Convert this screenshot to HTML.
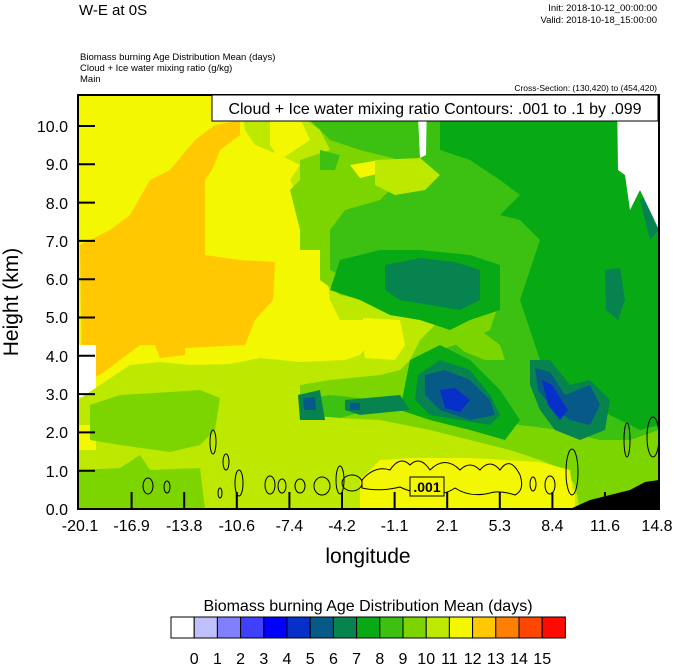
<!DOCTYPE html>
<html><head><style>
body{margin:0;background:#fff;width:674px;height:667px;overflow:hidden;font-family:"Liberation Sans",sans-serif}
</style></head><body>
<svg width="674" height="667" xmlns="http://www.w3.org/2000/svg" font-family="Liberation Sans, sans-serif">
<defs><clipPath id="c"><rect x="78" y="95" width="581" height="414"/></clipPath></defs>
<g clip-path="url(#c)">
<rect x="78" y="95" width="581" height="414" fill="#f3f700"/>
<polygon fill="#ffc800" points="80,245 110,230 130,215 150,180 170,170 195,140 215,125 240,120 240,135 220,150 212,170 205,180 205,255 240,260 275,262 273,300 255,320 245,345 185,348 185,355 160,358 155,345 140,345 120,360 100,375 82,380"/>
<rect x="78" y="345" width="18" height="52" fill="#fff"/>
<polygon fill="#bde800" points="240,95 659,95 659,509 575,509 575,490 360,480 360,509 78,509 78,400 100,385 130,365 160,362 190,365 230,364 260,358 300,362 345,360 360,355 380,330 375,320 340,320 330,300 325,260 330,230 315,210 300,200 290,180 300,165 280,155 255,145 245,130"/>
<rect x="78" y="425" width="18" height="25" fill="#f3f700"/>
<polygon fill="#7dd500" points="290,95 659,95 659,509 580,509 575,485 565,470 540,460 510,450 470,440 430,430 380,420 340,418 320,410 300,400 300,385 330,380 380,375 400,370 410,360 420,340 440,320 460,310 470,300 430,300 395,305 365,300 340,295 320,280 320,250 300,250 300,230 290,190 300,180 300,160 330,150 320,130 300,115"/>
<polygon fill="#7dd500" points="90,405 120,395 170,392 200,390 220,398 215,430 200,445 170,452 120,445 90,440"/>
<polygon fill="#7dd500" points="78,470 120,468 140,455 150,470 200,468 205,509 78,509"/>
<polygon fill="#f3f700" points="363,318 400,320 405,345 395,360 365,358 362,340"/>
<polygon fill="#f3f700" points="350,165 380,160 395,165 385,172 360,178"/>
<polygon fill="#f3f700" points="380,460 410,458 470,458 540,462 570,470 575,509 360,509 360,480"/>
<polygon fill="#f3f700" points="270,120 300,118 310,140 280,160 270,145"/>
<polygon fill="#3cc012" points="300,95 659,95 659,430 630,440 600,440 560,430 520,425 500,420 480,400 460,370 440,350 470,340 490,330 500,300 480,285 460,300 400,300 370,290 350,280 330,270 330,230 345,210 380,200 400,180 400,160 360,150 330,140 310,120"/>
<polygon fill="#bde800" points="375,160 420,158 440,175 425,190 395,195 375,185"/>
<polygon fill="#7dd500" points="450,340 480,330 500,345 505,360 485,360 465,352"/>
<polygon fill="#3cc012" points="320,150 340,155 335,170 320,170"/>
<polygon fill="#3cc012" points="300,400 330,395 360,398 370,410 340,418 305,415"/>
<polygon fill="#07a915" points="440,95 659,95 659,425 640,430 620,420 600,410 580,395 560,380 540,360 530,330 520,300 530,270 540,240 520,220 500,215 520,195 500,180 470,160 440,150 440,120"/>
<polygon fill="#07a915" points="340,260 380,250 420,250 470,255 500,265 500,310 470,320 450,330 420,320 390,315 360,300 330,290"/>
<polygon fill="#07a915" points="410,360 440,345 470,360 500,390 520,420 505,440 470,430 430,420 400,410 405,385"/>
<polygon fill="#07a915" points="620,110 640,120 659,140 659,200 640,180 630,150"/>
<polygon fill="#078350" points="385,265 420,258 455,262 480,270 480,300 460,310 430,305 400,300 385,290"/>
<polygon fill="#078350" points="605,270 620,268 625,300 618,320 606,310"/>
<polygon fill="#078350" points="640,200 655,190 659,230 650,240"/>
<polygon fill="#078350" points="418,375 440,360 470,370 490,395 500,415 490,425 460,420 430,415 415,400"/>
<polygon fill="#078350" points="530,360 550,360 570,385 590,380 610,400 605,430 580,440 555,430 540,410 530,385"/>
<polygon fill="#078350" points="298,395 320,390 325,420 300,420"/>
<polygon fill="#078350" points="345,400 400,395 410,410 360,415 345,410"/>
<polygon fill="#075a87" points="425,375 445,370 470,380 490,400 495,415 470,420 440,410 425,395"/>
<polygon fill="#075a87" points="535,368 550,372 565,395 590,385 600,405 590,425 570,420 550,405 538,390"/>
<polygon fill="#075a87" points="303,398 315,397 316,410 304,410"/>
<polygon fill="#075a87" points="350,403 360,403 360,410 350,410"/>
<polygon fill="#0630c7" points="440,390 455,388 470,400 460,412 445,408"/>
<polygon fill="#0630c7" points="542,380 552,385 568,410 560,420 548,405"/>
<polygon fill="#fff" points="417,95 427,95 426,155 420,158"/>
<polygon fill="#fff" points="617,95 659,95 659,230 652,215 640,190 630,210 625,175 618,170"/>
<polygon fill="#000" points="570,509 590,500 610,495 630,490 645,482 659,480 659,509"/>
<g fill="none" stroke="#000" stroke-width="1">
<ellipse cx="213" cy="442" rx="3" ry="12"/><ellipse cx="226" cy="462" rx="3" ry="8"/>
<ellipse cx="148" cy="486" rx="5" ry="8"/><ellipse cx="167" cy="487" rx="3" ry="6"/>
<ellipse cx="239" cy="483" rx="4" ry="13"/><ellipse cx="220" cy="493" rx="2" ry="5"/>
<ellipse cx="270" cy="485" rx="5" ry="9"/><ellipse cx="282" cy="486" rx="4" ry="7"/>
<ellipse cx="300" cy="486" rx="5" ry="7"/><ellipse cx="322" cy="486" rx="8" ry="9"/>
<ellipse cx="340" cy="480" rx="4" ry="14"/><ellipse cx="352" cy="483" rx="10" ry="8"/>
<path d="M362,480 Q375,465 390,470 Q400,455 410,465 Q420,455 430,470 Q445,455 460,470 Q470,460 480,470 Q490,458 500,470 Q510,455 520,475 Q525,490 515,495 Q500,490 490,493 Q470,498 455,488 Q440,498 430,490 Q415,495 400,487 Q380,492 362,488 Z"/>
<ellipse cx="550" cy="485" rx="5" ry="9"/><ellipse cx="572" cy="472" rx="6" ry="23"/>
<ellipse cx="627" cy="440" rx="3" ry="17"/><ellipse cx="653" cy="437" rx="6" ry="20"/>
<ellipse cx="533" cy="484" rx="3" ry="7"/>
</g>
<rect x="410" y="477" width="34" height="19" fill="#f3f700" stroke="#000"/>
<text x="427" y="492" font-size="14" font-weight="bold" text-anchor="middle">.001</text>
</g>
<rect x="78" y="95" width="581" height="414" fill="none" stroke="#000" stroke-width="2"/>
<rect x="212" y="95" width="446" height="26" fill="#fff" stroke="#000"/>
<text x="435" y="114" font-size="16" text-anchor="middle">Cloud + Ice water mixing ratio Contours: .001 to .1 by .099</text>
<g stroke="#000" stroke-width="2">
<line x1="78" y1="470.7" x2="95" y2="470.7"/><line x1="78" y1="432.4" x2="95" y2="432.4"/>
<line x1="78" y1="394.1" x2="95" y2="394.1"/><line x1="78" y1="355.8" x2="95" y2="355.8"/>
<line x1="78" y1="317.5" x2="95" y2="317.5"/><line x1="78" y1="279.2" x2="95" y2="279.2"/>
<line x1="78" y1="240.9" x2="95" y2="240.9"/><line x1="78" y1="202.6" x2="95" y2="202.6"/>
<line x1="78" y1="164.3" x2="95" y2="164.3"/><line x1="78" y1="126" x2="95" y2="126"/>
<line x1="131.6" y1="509" x2="131.6" y2="492"/><line x1="184.2" y1="509" x2="184.2" y2="492"/>
<line x1="236.8" y1="509" x2="236.8" y2="492"/><line x1="289.4" y1="509" x2="289.4" y2="492"/>
<line x1="342" y1="509" x2="342" y2="492"/><line x1="394.6" y1="509" x2="394.6" y2="492"/>
<line x1="447.2" y1="509" x2="447.2" y2="492"/><line x1="499.8" y1="509" x2="499.8" y2="492"/>
<line x1="552.4" y1="509" x2="552.4" y2="492"/><line x1="605" y1="509" x2="605" y2="492"/>
</g>
<g font-size="16" text-anchor="end">
<text x="68" y="515">0.0</text><text x="68" y="477">1.0</text><text x="68" y="438">2.0</text>
<text x="68" y="400">3.0</text><text x="68" y="362">4.0</text><text x="68" y="323">5.0</text>
<text x="68" y="285">6.0</text><text x="68" y="247">7.0</text><text x="68" y="209">8.0</text>
<text x="68" y="170">9.0</text><text x="68" y="132">10.0</text>
</g>
<g font-size="16" text-anchor="middle">
<text x="80" y="531">-20.1</text><text x="131.6" y="531">-16.9</text><text x="184.2" y="531">-13.8</text>
<text x="236.8" y="531">-10.6</text><text x="289.4" y="531">-7.4</text><text x="342" y="531">-4.2</text>
<text x="394.6" y="531">-1.1</text><text x="447.2" y="531">2.1</text><text x="499.8" y="531">5.3</text>
<text x="552.4" y="531">8.4</text><text x="605" y="531">11.6</text><text x="657" y="531">14.8</text>
</g>
<text x="368" y="563" font-size="21" text-anchor="middle">longitude</text>
<text transform="translate(18,302) rotate(-90)" font-size="21" text-anchor="middle">Height (km)</text>
<text x="79" y="15" font-size="15">W-E at 0S</text>
<text x="657" y="11" font-size="9.5" text-anchor="end">Init: 2018-10-12_00:00:00</text>
<text x="657" y="23" font-size="9.5" text-anchor="end">Valid: 2018-10-18_15:00:00</text>
<text x="80" y="60" font-size="9.5">Biomass burning Age Distribution Mean   (days)</text>
<text x="80" y="71" font-size="9.5">Cloud + Ice water mixing ratio   (g/kg)</text>
<text x="80" y="82" font-size="9.5">Main</text>
<text x="657" y="91" font-size="8.5" text-anchor="end">Cross-Section: (130,420) to (454,420)</text>
<text x="368" y="611" font-size="16" text-anchor="middle">Biomass burning Age Distribution Mean  (days)</text>
<g stroke="#000" stroke-width="1">
<rect x="171" y="617" width="23.2" height="21" fill="#fff"/>
<rect x="194.2" y="617" width="23.2" height="21" fill="#c0c0ff"/>
<rect x="217.4" y="617" width="23.2" height="21" fill="#8080ff"/>
<rect x="240.6" y="617" width="23.2" height="21" fill="#4040ff"/>
<rect x="263.8" y="617" width="23.2" height="21" fill="#0000ff"/>
<rect x="287" y="617" width="23.2" height="21" fill="#0630c7"/>
<rect x="310.2" y="617" width="23.2" height="21" fill="#075a87"/>
<rect x="333.4" y="617" width="23.2" height="21" fill="#078350"/>
<rect x="356.6" y="617" width="23.2" height="21" fill="#07a915"/>
<rect x="379.8" y="617" width="23.2" height="21" fill="#3cc012"/>
<rect x="403" y="617" width="23.2" height="21" fill="#7dd500"/>
<rect x="426.2" y="617" width="23.2" height="21" fill="#bde800"/>
<rect x="449.4" y="617" width="23.2" height="21" fill="#f3f700"/>
<rect x="472.6" y="617" width="23.2" height="21" fill="#ffc800"/>
<rect x="495.8" y="617" width="23.2" height="21" fill="#ff8000"/>
<rect x="519" y="617" width="23.2" height="21" fill="#ff4600"/>
<rect x="542.2" y="617" width="23.2" height="21" fill="#ff0a00"/>
</g>
<g font-size="16" text-anchor="middle">
<text x="194.2" y="664">0</text><text x="217.4" y="664">1</text><text x="240.6" y="664">2</text>
<text x="263.8" y="664">3</text><text x="287" y="664">4</text><text x="310.2" y="664">5</text>
<text x="333.4" y="664">6</text><text x="356.6" y="664">7</text><text x="379.8" y="664">8</text>
<text x="403" y="664">9</text><text x="426.2" y="664">10</text><text x="449.4" y="664">11</text>
<text x="472.6" y="664">12</text><text x="495.8" y="664">13</text><text x="519" y="664">14</text>
<text x="542.2" y="664">15</text>
</g>
</svg>
</body></html>
